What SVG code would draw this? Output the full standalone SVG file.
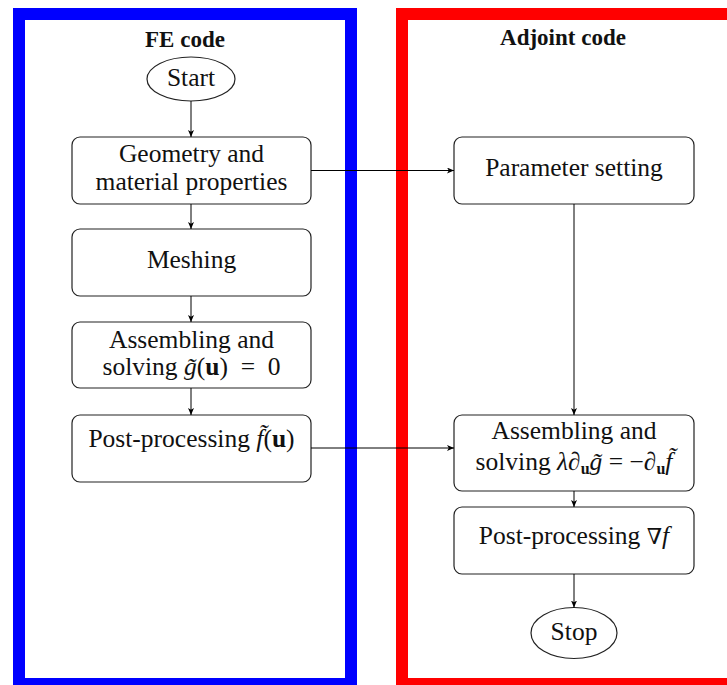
<svg xmlns="http://www.w3.org/2000/svg" width="727" height="685" viewBox="0 0 727 685">
<defs>
<marker id="arr" markerWidth="8" markerHeight="6" refX="7" refY="3" orient="auto" markerUnits="userSpaceOnUse">
<path d="M0,0 L7,3 L0,6 L1.8,3 z" fill="#000"/>
</marker>
<style>
.frame{fill:none;stroke-width:12}
.box{fill:#fff;stroke:#222;stroke-width:1.2}
.t{font-family:"Liberation Serif","Times New Roman",serif;font-size:25.5px;fill:#111;text-anchor:middle}
.title{font-family:"Liberation Serif","Times New Roman",serif;font-size:23px;font-weight:bold;fill:#111;text-anchor:middle}
.c{fill:none;stroke:#000;stroke-width:1;marker-end:url(#arr)}
.i{font-style:italic}
.b{font-weight:bold}
.s{font-size:16px;font-weight:bold}
.n{font-family:"DejaVu Serif",serif;font-size:22px;font-weight:normal}
</style>
</defs>
<g id="frames">
<rect class="frame" x="19" y="14" width="332" height="670" stroke="#0000ff"/>
<rect class="frame" x="402" y="14" width="332" height="670" stroke="#ff0000"/>
<text class="title" x="185" y="47">FE code</text>
<text class="title" x="563" y="45">Adjoint code</text>
</g>
<g id="start"><ellipse class="box" cx="191" cy="79" rx="44" ry="22"/><text class="t" x="191" y="86">Start</text></g>
<g id="geometry"><rect class="box" x="72" y="137" width="239" height="67" rx="8"/><text class="t" x="191.5" y="162">Geometry and</text><text class="t" x="191.5" y="190">material properties</text></g>
<g id="meshing"><rect class="box" x="72" y="229" width="239" height="67" rx="8"/><text class="t" x="191.5" y="268">Meshing</text></g>
<g id="assemblingFE"><rect class="box" x="72" y="322" width="239" height="66" rx="8"/><text class="t" x="191.5" y="348">Assembling and</text><text class="t" x="191.5" y="375">solving <tspan class="i">g̃</tspan>(<tspan class="b">u</tspan>) &#160;= &#160;0</text></g>
<g id="postFE"><rect class="box" x="72" y="415" width="239" height="67" rx="8"/><text class="t" x="191.5" y="447">Post-processing <tspan class="i">f̃</tspan>(<tspan class="b">u</tspan>)</text></g>
<g id="parameter"><rect class="box" x="454" y="137" width="240" height="67" rx="8"/><text class="t" x="574" y="176">Parameter setting</text></g>
<g id="assemblingAdj"><rect class="box" x="454" y="415" width="240" height="76" rx="8"/><text class="t" x="574" y="439">Assembling and</text><text class="t" x="574" y="470">solving <tspan class="i">λ</tspan>∂<tspan class="s" dy="4">u</tspan><tspan class="i" dy="-4">g̃</tspan> = −∂<tspan class="s" dy="4">u</tspan><tspan class="i" dy="-4">f̃</tspan></text></g>
<g id="postAdj"><rect class="box" x="454" y="507" width="240" height="67" rx="8"/><text class="t" x="574" y="544">Post-processing <tspan class="n">∇</tspan><tspan class="i">f</tspan></text></g>
<g id="stop"><ellipse class="box" cx="574" cy="633" rx="43" ry="25.5"/><text class="t" x="574" y="640">Stop</text></g>
<g id="connectors">
<line class="c" x1="191" y1="101" x2="191" y2="137"/>
<line class="c" x1="191" y1="204" x2="191" y2="229"/>
<line class="c" x1="191" y1="296" x2="191" y2="322"/>
<line class="c" x1="191" y1="388" x2="191" y2="415"/>
<line class="c" x1="311" y1="170.5" x2="454" y2="170.5"/>
<line class="c" x1="311" y1="448" x2="454" y2="448"/>
<line class="c" x1="574" y1="204" x2="574" y2="415"/>
<line class="c" x1="574" y1="491" x2="574" y2="507"/>
<line class="c" x1="574" y1="574" x2="574" y2="607.5"/>
</g>
</svg>
